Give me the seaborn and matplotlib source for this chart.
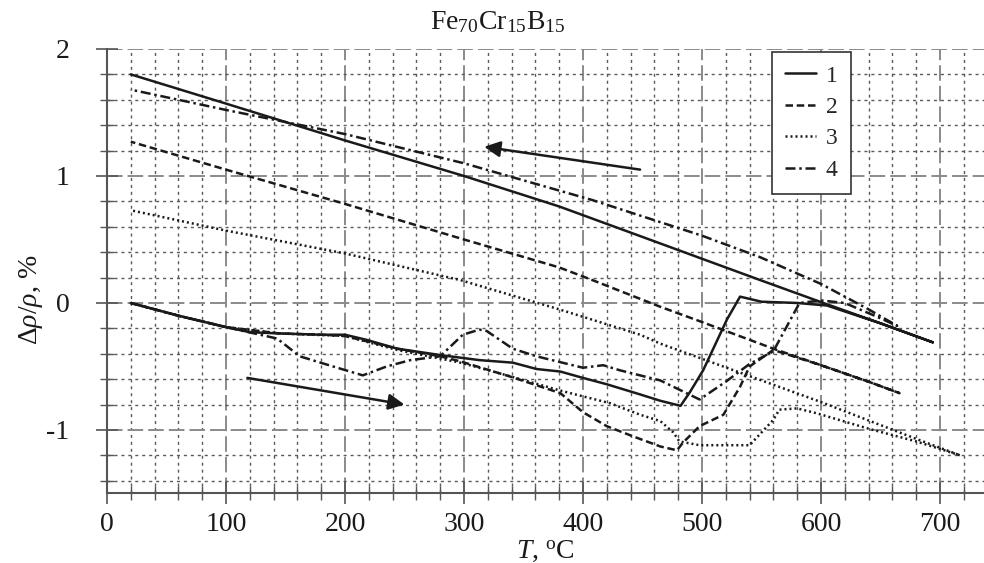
import numpy as np
import pandas as pd
import matplotlib
matplotlib.use('Agg')
import matplotlib.pyplot as plt
import seaborn as sns
from matplotlib.ticker import MultipleLocator

sns.set_theme(style='white')
plt.rcParams['font.family'] = ['Liberation Serif', 'DejaVu Serif']
plt.rcParams['mathtext.fontset'] = 'custom'
plt.rcParams['mathtext.rm'] = 'Liberation Serif'
plt.rcParams['mathtext.it'] = 'Liberation Serif:italic'

# ---------------- data (heating then cooling, in measurement order) ----------------
t1 = [20, 60, 100, 120, 145, 180, 200, 218, 244, 280, 313, 341, 361, 381, 400, 420, 448, 465, 482,
      490, 501, 521, 532, 550, 580, 605, 650, 694,
      650, 605, 549, 450, 380, 300, 200, 100, 20]
r1 = [0, -0.10, -0.19, -0.23, -0.24, -0.25, -0.25, -0.29, -0.36, -0.41, -0.45, -0.47, -0.52, -0.54, -0.59, -0.64, -0.72, -0.77, -0.81,
      -0.70, -0.53, -0.13, 0.05, 0.01, 0.00, -0.02, -0.16, -0.31,
      -0.16, -0.01, 0.18, 0.52, 0.76, 1.00, 1.28, 1.57, 1.80]

t2 = [20, 60, 100, 145, 180, 200, 244, 280, 297, 339, 381, 400, 420, 442, 465, 479, 484, 498, 518,
      532, 540, 560, 600, 640, 666,
      640, 600, 560, 500, 465, 408, 380, 300, 200, 100, 20]
r2 = [0, -0.10, -0.19, -0.24, -0.25, -0.26, -0.36, -0.42, -0.46, -0.58, -0.71, -0.86, -0.97, -1.05, -1.13, -1.16, -1.10, -0.97, -0.88,
      -0.66, -0.50, -0.37, -0.49, -0.62, -0.71,
      -0.62, -0.49, -0.36, -0.15, -0.03, 0.18, 0.28, 0.50, 0.78, 1.05, 1.27]

t3 = [20, 60, 100, 145, 200, 244, 297, 340, 381, 423, 448, 465, 476, 481, 498, 540, 560, 565, 580,
      597, 640, 680, 717,
      680, 600, 465, 448, 380, 297, 200, 100, 20]
r3 = [0, -0.10, -0.19, -0.24, -0.26, -0.37, -0.47, -0.58, -0.69, -0.79, -0.88, -0.93, -1.02, -1.09, -1.12, -1.12, -0.92, -0.84, -0.83,
      -0.87, -0.99, -1.09, -1.20,
      -1.07, -0.78, -0.32, -0.25, -0.05, 0.18, 0.39, 0.57, 0.73]

t4 = [20, 60, 100, 143, 162, 190, 215, 235, 255, 280, 299, 313, 319, 341, 361, 400, 417, 431, 448, 465,
      498, 520, 540, 560, 575, 582, 600, 620, 645, 664,
      640, 620, 600, 549, 500, 408, 300, 200, 100, 20]
r4 = [0, -0.10, -0.19, -0.28, -0.42, -0.50, -0.57, -0.50, -0.45, -0.42, -0.25, -0.21, -0.22, -0.36, -0.42, -0.51, -0.49, -0.53, -0.57, -0.61,
      -0.76, -0.62, -0.48, -0.38, -0.12, 0.00, 0.02, 0.00, -0.10, -0.18,
      -0.05, 0.05, 0.15, 0.36, 0.53, 0.81, 1.10, 1.33, 1.52, 1.68]

series_names = ['1', '2', '3', '4']
series_t = [t1, t2, t3, t4]
series_r = [r1, r2, r3, r4]
line_styles = ['-', (0, (3.0, 1.5)), (0, (0.8, 1.2)), (0, (4.0, 1.5, 1.0, 1.5))]

# arrows: (tail T, tail value) -> (head T, head value)
arrow_cool = [(448, 1.05), (317, 1.23)]
arrow_heat = [(118, -0.59), (250, -0.80)]

x_ticks = [0, 100, 200, 300, 400, 500, 600, 700]
y_ticks = [-1, 0, 1, 2]

# ---------------- figure ----------------
fig = plt.figure(figsize=(9.84, 5.63), dpi=100)
ax = fig.add_axes([0.1087, 0.1235, 0.8913, 0.7895])
ax.set_facecolor('white')

frames = []
for name, t, r in zip(series_names, series_t, series_r):
    frames.append(pd.DataFrame({'T': t, 'rho': r, 'series': name, 'order': np.arange(len(t))}))
df = pd.concat(frames, ignore_index=True)

ink = '#1a1a1a'
for name, ls in zip(series_names, line_styles):
    sub = df[df['series'] == name]
    sns.lineplot(data=sub, x='T', y='rho', sort=False, estimator=None, ax=ax,
                 color=ink, linewidth=1.8, linestyle=ls, label=name, zorder=5)

for (x0, y0), (x1, y1) in [arrow_cool, arrow_heat]:
    ax.annotate('', xy=(x1, y1), xytext=(x0, y0),
                arrowprops=dict(arrowstyle='-|>', color=ink, lw=1.8,
                                mutation_scale=24, shrinkA=0, shrinkB=0),
                zorder=6)

ax.set_xlim(0, 737)
ax.set_ylim(-1.5, 2.0)
ax.xaxis.set_major_locator(MultipleLocator(100))
ax.xaxis.set_minor_locator(MultipleLocator(20))
ax.yaxis.set_major_locator(MultipleLocator(1))
ax.yaxis.set_minor_locator(MultipleLocator(0.2))
ax.set_xticks(x_ticks)
ax.set_yticks(y_ticks)
ax.set_xticklabels([str(v) for v in x_ticks])
ax.set_yticklabels([str(v) for v in y_ticks])

ax.grid(which='major', color='#8a8a8a', linestyle=(0, (8.0, 2.6)), linewidth=1.4, zorder=1)
ax.grid(which='minor', color='#5a5a5a', linestyle=(0, (2.2, 2.8)), linewidth=1.0, zorder=1)
ax.set_axisbelow(True)

for side in ['top', 'right']:
    ax.spines[side].set_visible(False)
for side in ['left', 'bottom']:
    ax.spines[side].set_visible(True)
    ax.spines[side].set_color('#555555')
    ax.spines[side].set_linewidth(1.5)

ax.tick_params(which='major', direction='inout', length=16, width=1.2, color='#555555',
               labelsize=20, labelcolor=ink)
ax.tick_params(which='minor', direction='inout', length=10, width=1.0, color='#555555')
ax.tick_params(axis='y', which='major', pad=19, left=True)
ax.tick_params(axis='y', which='minor', left=True)
ax.tick_params(axis='x', which='major', pad=5, bottom=True)
ax.tick_params(axis='x', which='minor', bottom=True)

ax.set_xlabel('')
ax.set_ylabel('')

leg = ax.legend(loc='upper right', bbox_to_anchor=(0.848, 0.993), borderaxespad=0,
                fontsize=17, frameon=True, fancybox=False, edgecolor='#333333',
                framealpha=1, handlelength=1.35, handletextpad=0.4,
                labelspacing=0.42, borderpad=0.55)
leg.get_frame().set_linewidth(1.2)
leg.set_zorder(10)

fig.text(0.506, 0.961, r'Fe$_{70}$Cr$_{15}$B$_{15}$', ha='center', va='center',
         fontsize=20, color=ink)
fig.text(0.032, 1 - 300 / 563, r'$\mathit{\Delta\rho/\rho}$, %', rotation=90,
         ha='center', va='center', fontsize=20, color=ink)
fig.text(545 / 984, 1 - 551 / 563, r'$\mathit{T}$, $^{\mathrm{o}}$C', ha='center',
         va='center', fontsize=20, color=ink)

fig.savefig('out.png', dpi=100, facecolor='white')
